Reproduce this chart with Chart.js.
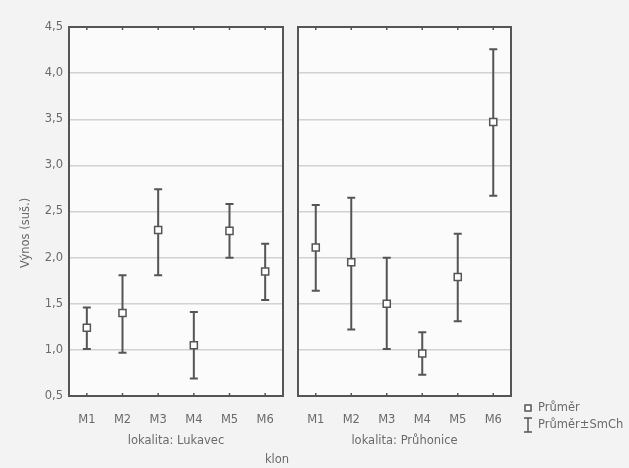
<!DOCTYPE html>
<html>
<head>
<meta charset="utf-8">
<script src="https://cdn.jsdelivr.net/npm/chart.js@4"></script>
<style>
  html, body { margin: 0; padding: 0; background: #f3f3f3; }
  #wrap { position: relative; width: 629px; height: 468px; background: #f3f3f3; }
  canvas { position: absolute; top: 0; }
  #cLeft { left: 0; }
  #cRight { left: 290px; }
</style>
</head>
<body>
<div id="wrap">
  <canvas id="cLeft" width="290" height="468"></canvas>
  <canvas id="cRight" width="339" height="468"></canvas>
</div>
<script>
// data
var klony = ['M1', 'M2', 'M3', 'M4', 'M5', 'M6'];
var lukavecPrumer = [1.24, 1.40, 2.30, 1.05, 2.29, 1.85];
var lukavecDolni  = [1.01, 0.97, 1.81, 0.69, 2.00, 1.54];
var lukavecHorni  = [1.46, 1.81, 2.74, 1.41, 2.58, 2.15];
var pruhonicePrumer = [2.11, 1.95, 1.50, 0.96, 1.79, 3.47];
var pruhoniceDolni  = [1.64, 1.22, 1.01, 0.73, 1.31, 2.67];
var pruhoniceHorni  = [2.57, 2.65, 2.00, 1.19, 2.26, 4.26];
var yMin = 0.5, yMax = 4.5, yStep = 0.5;

var ink = '#555555';
var textCol = '#6a6a6a';
var fontFam = '"DejaVu Sans", Verdana, sans-serif';
var fontSize = 11.5;

function fmt(v) {
    return v.toFixed(1).replace('.', ',');
}

// background, whiskers, frame and small tick marks
var panelPlugin = {
    id: 'panel',
    beforeDraw: function(chart) {
        var a = chart.chartArea;
        var ctx = chart.ctx;
        ctx.save();
        ctx.fillStyle = '#fbfbfb';
        ctx.fillRect(a.left, a.top, a.right - a.left, a.bottom - a.top);
        ctx.restore();
    },
    beforeDatasetsDraw: function(chart) {
        var ctx = chart.ctx;
        var ds = chart.data.datasets[0];
        var x = chart.scales.x, y = chart.scales.y;
        ctx.save();
        ctx.strokeStyle = ink;
        ctx.lineWidth = 2;
        for (var i = 0; i < ds.data.length; i++) {
            var px = x.getPixelForValue(i);
            var lo = y.getPixelForValue(ds.errLow[i]);
            var hi = y.getPixelForValue(ds.errHigh[i]);
            ctx.beginPath();
            ctx.moveTo(px, lo); ctx.lineTo(px, hi);
            ctx.moveTo(px - 4, lo); ctx.lineTo(px + 4, lo);
            ctx.moveTo(px - 4, hi); ctx.lineTo(px + 4, hi);
            ctx.stroke();
        }
        ctx.restore();
    },
    afterDraw: function(chart) {
        var a = chart.chartArea;
        var ctx = chart.ctx;
        var x = chart.scales.x;
        ctx.save();
        ctx.strokeStyle = ink;
        ctx.lineWidth = 1.5;
        for (var i = 0; i < klony.length; i++) {
            var px = x.getPixelForValue(i);
            ctx.beginPath();
            ctx.moveTo(px, a.top); ctx.lineTo(px, a.top + 3);
            ctx.moveTo(px, a.bottom); ctx.lineTo(px, a.bottom - 3);
            ctx.stroke();
        }
        ctx.lineWidth = 2;
        ctx.strokeRect(a.left, a.top, a.right - a.left, a.bottom - a.top);
        ctx.restore();

        var opts = chart.options.plugins.panel || {};
        ctx.save();
        ctx.fillStyle = textCol;
        ctx.font = fontSize + 'px ' + fontFam;
        ctx.textBaseline = 'middle';
        if (opts.side === 'left') {
            ctx.textAlign = 'center';
            ctx.fillText('klon', 277, 460);
            ctx.translate(26, 233);
            ctx.rotate(-Math.PI / 2);
            ctx.fillText('Výnos (suš.)', 0, 0);
        } else {
            // legend
            var lx = 238, ly1 = 408, ly2 = 425;
            ctx.strokeStyle = ink;
            ctx.lineWidth = 1.5;
            ctx.fillStyle = '#ffffff';
            ctx.fillRect(lx - 3, ly1 - 3, 6, 6);
            ctx.strokeRect(lx - 3, ly1 - 3, 6, 6);
            ctx.beginPath();
            ctx.moveTo(lx, ly2 - 7); ctx.lineTo(lx, ly2 + 7);
            ctx.moveTo(lx - 4, ly2 - 7); ctx.lineTo(lx + 4, ly2 - 7);
            ctx.moveTo(lx - 4, ly2 + 7); ctx.lineTo(lx + 4, ly2 + 7);
            ctx.stroke();
            ctx.fillStyle = textCol;
            ctx.textAlign = 'left';
            ctx.fillText('Průměr', lx + 10, ly1);
            ctx.fillText('Průměr±SmCh', lx + 10, ly2);
        }
        ctx.restore();
    }
};

function makePanel(canvasId, side, title, prumer, dolni, horni) {
    var padLeft = side === 'left' ? 0 : 8;
    var padRight = side === 'left' ? 7 : 118;
    return new Chart(document.getElementById(canvasId).getContext('2d'), {
        type: 'line',
        data: {
            labels: klony,
            datasets: [{
                label: 'Průměr',
                data: prumer,
                errLow: dolni,
                errHigh: horni,
                showLine: false,
                pointStyle: 'rect',
                pointRadius: 5,
                pointHoverRadius: 5,
                borderWidth: 1.5,
                borderColor: ink,
                backgroundColor: '#ffffff'
            }]
        },
        options: {
            responsive: false,
            animation: false,
            events: [],
            layout: { padding: { top: 27, left: padLeft, right: padRight, bottom: 0 } },
            plugins: {
                legend: { display: false },
                tooltip: { enabled: false },
                panel: { side: side }
            },
            scales: {
                x: {
                    type: 'category',
                    offset: true,
                    grid: { display: false },
                    border: { display: false },
                    ticks: {
                        color: textCol,
                        font: { family: fontFam, size: fontSize },
                        padding: 9,
                        maxRotation: 0
                    },
                    title: {
                        display: true,
                        text: title,
                        color: textCol,
                        font: { family: fontFam, size: fontSize },
                        padding: { top: 0, bottom: 20 }
                    },
                    afterFit: function(scale) { scale.height = 72; }
                },
                y: {
                    min: yMin,
                    max: yMax,
                    grid: { color: '#d2d2d2', lineWidth: 1.5, drawTicks: false },
                    border: { display: false },
                    ticks: {
                        display: side === 'left',
                        stepSize: yStep,
                        color: textCol,
                        font: { family: fontFam, size: fontSize },
                        padding: 6,
                        callback: function(v) { return fmt(v); }
                    },
                    afterFit: function(scale) { scale.width = side === 'left' ? 69 : 0; }
                }
            }
        },
        plugins: [panelPlugin]
    });
}

makePanel('cLeft', 'left', 'lokalita: Lukavec', lukavecPrumer, lukavecDolni, lukavecHorni);
makePanel('cRight', 'right', 'lokalita: Průhonice', pruhonicePrumer, pruhoniceDolni, pruhoniceHorni);
</script>
</body>
</html>
